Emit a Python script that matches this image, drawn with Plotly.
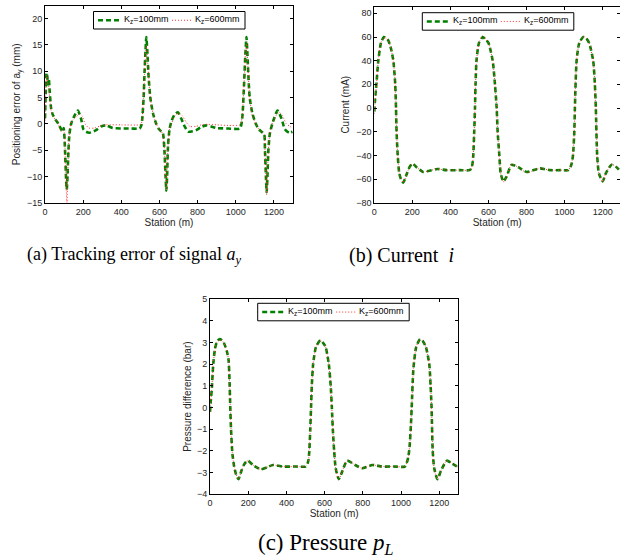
import plotly.graph_objects as go

# ---------------- data ----------------
# (a) positioning error of a_y (mm)
st_a_k100 = [0, 4, 8, 12, 16, 20, 25, 32, 40, 55, 70, 84, 93, 98, 102, 107, 111, 114, 118, 123, 128, 137,
             154, 172, 189, 201, 215, 233, 268, 294, 320, 355, 400, 450, 496, 505, 510, 517, 522, 527, 531,
             536, 543, 552, 566, 583, 597, 610, 618, 626, 632, 636, 640, 645, 653, 663, 680, 697, 714, 732,
             750, 775, 793, 820, 846, 870, 898, 960, 1021, 1030, 1036, 1044, 1050, 1056, 1060, 1065, 1073,
             1087, 1105, 1120, 1135, 1149, 1153, 1158, 1162, 1166, 1171, 1178, 1184, 1196, 1219, 1240, 1257,
             1280, 1297]
err_a_k100 = [1, 6, 9.7, 9, 7.5, 8.5, 6, 3, 1.8, 0.8, 0, -1, -1.5, -0.8, -2.5, -7, -11, -12.5, -10, -5, -2, 0,
              1.5, 2.5, 1, -1, -1.5, -1.7, -1.2, -0.5, -0.3, -0.8, -0.9, -0.9, -0.9, -0.3, 1, 5, 10, 14, 16.5,
              14, 9, 5, 2, 0, -1, -1.5, -1.8, -5, -10, -12.7, -10, -4, -1, 0.5, 1.8, 2.2, 1, -0.5,
              -1.5, -1.4, -1.2, -0.6, -0.3, -0.5, -0.8, -0.9, -0.9, 0, 2, 8, 13, 16.5, 14, 10, 5,
              2, 0, -1, -1.5, -2, -5, -10, -13, -10, -5, -2, -1, 0.5, 2.5, 1, -1,
              -1.7, -1.5]
st_a_k600 = [0, 4, 8, 12, 20, 30, 40, 55, 70, 84, 93, 100, 106, 111, 115, 119, 124, 130, 140, 160, 180, 195,
             210, 230, 260, 290, 320, 400, 496, 505, 510, 517, 522, 527, 531, 536, 543, 552, 566, 583, 597,
             610, 618, 626, 632, 636, 640, 645, 653, 663, 680, 700, 720, 740, 760, 790, 820, 850, 900, 960,
             1021, 1030, 1036, 1044, 1050, 1056, 1060, 1065, 1073, 1087, 1105, 1120, 1135, 1149, 1153, 1158,
             1162, 1166, 1171, 1178, 1184, 1196, 1210, 1228, 1245, 1265, 1285, 1297]
err_a_k600 = [0, 6, 9.3, 8, 7, 3, 1.5, 0.8, 0, -1.5, -1.2, -1.5, -6, -12, -15, -10, -4, -1, 0.5, 1.2, 1.8, 1.5,
              0, -0.8, -0.8, -0.4, -0.2, -0.2, -0.2, 0, 1.5, 5, 10, 13, 15, 13, 9, 5, 2, 0, -1,
              -1.5, -2, -5, -10, -12.5, -10, -4, -1, 0, 1.5, 2, 1.5, 0.3, -0.5, -0.5, -0.2, -0.1, -0.2, -0.3,
              -0.2, 0.5, 2.5, 8, 13, 15.5, 13.5, 10, 5, 1.5, 0, -1, -1.5, -2, -5, -10,
              -13.5, -10, -5, -2, -0.5, 0.5, 1.5, 2.2, 1.5, 0, -0.5, -0.8]

# (b) current (mA)
st_b = [0, 3, 8, 12, 21, 35, 50, 62, 74, 88, 100, 110, 114, 117, 123, 131, 140, 152, 170, 185, 200, 222, 257,
        290, 330, 380, 450, 500, 510, 516, 520, 525, 529, 532, 537, 550, 570, 585, 600, 622, 634, 643, 648,
        657, 664, 678, 695, 721, 756, 800, 870, 923, 980, 1019, 1030, 1037, 1044, 1051, 1054, 1063, 1077,
        1098, 1113, 1129, 1150, 1159, 1164, 1171, 1180, 1200, 1217, 1247, 1273, 1290]
cur_b_k100 = [-3, 5, 15, 22, 40, 55, 60, 59, 57, 50, 40, 20, 0, -20, -40, -55, -60, -63, -56, -50, -47, -50, -54,
              -53, -51.5, -52.5, -52.5, -52.5, -51, -47, -40, -20, 0, 20, 40, 55, 60, 58, 55, 40, 20, 0, -20,
              -40, -55, -62, -58, -48, -50, -54, -51, -52.5, -52.5, -52.5, -50, -47, -40, -20, 0, 40, 55,
              60, 59, 55, 40, 20, 0, -40, -55, -62, -55, -48, -50, -53]
cur_b_k600 = [-5, 4, 14, 21, 40, 55, 59.5, 59, 57, 50, 40, 20, 0, -20, -40, -55, -60, -63, -56, -50, -47.5, -50, -54,
              -53, -51.5, -52.5, -52.5, -52.5, -51, -47, -40, -20, 0, 20, 40, 55, 61, 58, 55, 40, 20, 0, -20,
              -40, -55, -62.5, -58, -47.5, -50, -54.5, -51, -52.5, -52.5, -52.5, -50, -47, -40, -20, 0, 40, 55,
              60.5, 59, 55, 40, 20, 0, -40, -55, -62.5, -55, -47.5, -50, -53]

# (c) pressure difference (bar)
st_c = [0, 4, 9, 17, 26, 35, 49, 62, 74, 88, 97, 102, 106, 110, 117, 126, 137, 149, 165, 180, 198, 225, 266,
        300, 330, 380, 450, 500, 510, 516, 520, 525, 529, 533, 540, 555, 578, 590, 605, 622, 632, 638, 643,
        650, 658, 674, 690, 718, 760, 797, 850, 900, 960, 1020, 1030, 1038, 1045, 1052, 1056, 1065, 1080,
        1100, 1115, 1130, 1148, 1155, 1160, 1166, 1174, 1191, 1210, 1240, 1270, 1300]
pres_c_k100 = [-0.2, 0.3, 0.8, 2.0, 2.7, 3.0, 3.15, 3.1, 2.95, 2.6, 2.2, 1.3, 0.05, -1.0, -2.1, -2.7, -3.1, -3.3,
               -2.9, -2.6, -2.45, -2.65, -2.85, -2.75, -2.65, -2.72, -2.72, -2.72, -2.6, -2.4, -2.0, -1.0, 0,
               1.0, 2.0, 2.8, 3.1, 3.0, 2.8, 2.0, 1.0, 0, -1.0, -2.0, -2.8, -3.3, -3.0, -2.45, -2.65, -2.8,
               -2.65, -2.72, -2.72, -2.72, -2.55, -2.3, -1.8, -0.8, 0, 1.8, 2.8, 3.15, 3.05, 2.8, 2.0, 1.0,
               0, -2.0, -2.8, -3.3, -2.9, -2.45, -2.6, -2.75]
pres_c_k600 = [-0.2, 0.3, 0.8, 2.0, 2.7, 3.0, 3.12, 3.1, 2.95, 2.6, 2.2, 1.3, 0.05, -1.0, -2.1, -2.7, -3.1, -3.3,
               -2.9, -2.6, -2.45, -2.65, -2.85, -2.75, -2.65, -2.72, -2.72, -2.72, -2.6, -2.4, -2.0, -1.0, 0,
               1.0, 2.0, 2.8, 3.1, 3.0, 2.8, 2.0, 1.0, 0, -1.0, -2.0, -2.8, -3.3, -3.0, -2.45, -2.65, -2.8,
               -2.65, -2.72, -2.72, -2.72, -2.55, -2.3, -1.8, -0.8, 0, 1.8, 2.8, 3.15, 3.05, 2.8, 2.0, 1.0,
               0, -2.0, -2.8, -3.3, -2.9, -2.45, -2.6, -2.75]

name_k100 = "K<sub>z</sub>=100mm"
name_k600 = "K<sub>z</sub>=600mm"
x_ticks = [0, 200, 400, 600, 800, 1000, 1200]
captions = ["(a) Tracking error of signal <i>a<sub>y</sub></i>",
            "(b) Current&nbsp;&nbsp;<i>i</i>",
            "(c) Pressure <i>p<sub>L</sub></i>"]

# ---------------- figure ----------------
W, H = 620, 559
GREEN = "#008000"
RED = "#ff3030"
GREEN_LINE = dict(color=GREEN, width=2.6, dash="5px,3px")
RED_LINE = dict(color=RED, width=1, dash="1px,2px")
fig = go.Figure()

series = [
    ("x", "y", st_a_k100, err_a_k100, st_a_k600, err_a_k600),
    ("x2", "y2", st_b, cur_b_k100, st_b, cur_b_k600),
    ("x3", "y3", st_c, pres_c_k100, st_c, pres_c_k600),
]
for xa, ya, x1, y1, x2, y2 in series:
    fig.add_trace(go.Scatter(x=x1, y=y1, xaxis=xa, yaxis=ya, name=name_k100, mode="lines", showlegend=False,
                             line=dict(**GREEN_LINE, shape="spline", smoothing=0.6)))
    fig.add_trace(go.Scatter(x=x2, y=y2, xaxis=xa, yaxis=ya, name=name_k600, mode="lines", showlegend=False,
                             line=dict(**RED_LINE, shape="spline", smoothing=0.6)))

FAM = "Liberation Sans, Arial, sans-serif"
font_axis = dict(family=FAM, size=9, color="#262626")
title_font = dict(size=10, family=FAM, color="#262626")
common_ax = dict(showline=True, linecolor="black", linewidth=1, mirror="ticks", ticks="inside",
                 ticklen=3, tickcolor="black", showgrid=False, zeroline=False, tickfont=font_axis,
                 automargin=False)

fig.update_layout(
    width=W, height=H, margin=dict(l=0, r=0, t=0, b=0), template="none",
    paper_bgcolor="white", plot_bgcolor="white", showlegend=False,
    xaxis=dict(domain=[45 / W, 293 / W], range=[0, 1300], tickvals=x_ticks, anchor="y",
               title=dict(text="Station (m)", font=title_font, standoff=2), **common_ax),
    yaxis=dict(domain=[1 - 202.7 / H, 1 - 6 / H], range=[-15, 22.4], tickvals=[-15, -10, -5, 0, 5, 10, 15, 20],
               anchor="x", title=dict(text="Positioning error of a<sub>y</sub> (mm)", font=title_font, standoff=4),
               **common_ax),
    xaxis2=dict(domain=[374.3 / W, 1.0], range=[0, 1291], tickvals=x_ticks, anchor="y2",
                title=dict(text="Station (m)", font=title_font, standoff=2), **common_ax),
    yaxis2=dict(domain=[1 - 202.7 / H, 1 - 6.7 / H], range=[-80, 85.6], tickvals=list(range(-80, 81, 20)),
                anchor="x2", title=dict(text="Current (mA)", font=title_font, standoff=4), **common_ax),
    xaxis3=dict(domain=[210 / W, 458.3 / W], range=[0, 1300], tickvals=x_ticks, anchor="y3",
                title=dict(text="Station (m)", font=title_font, standoff=2), **common_ax),
    yaxis3=dict(domain=[1 - 494.3 / H, 1 - 299 / H], range=[-4, 5], tickvals=list(range(-4, 6)), anchor="x3",
                title=dict(text="Pressure difference (bar)", font=title_font, standoff=3), **common_ax),
)

# legends (one boxed legend per panel), positioned in pixels
legend_boxes = [(93.5, 11.5), (422.3, 12.7), (257.7, 303.3)]
LW, LH = 151.5, 17.5
def px(x):
    return x / W
def py(y):
    return 1 - y / H
for lx, ly in legend_boxes:
    fig.add_shape(type="rect", xref="paper", yref="paper", x0=px(lx), x1=px(lx + LW), y0=py(ly + LH), y1=py(ly),
                  line=dict(color="black", width=1), fillcolor="white", layer="above")
    cy = ly + LH / 2
    fig.add_shape(type="line", xref="paper", yref="paper", x0=px(lx + 4.5), x1=px(lx + 27), y0=py(cy), y1=py(cy),
                  line=GREEN_LINE, layer="above")
    fig.add_shape(type="line", xref="paper", yref="paper", x0=px(lx + 78.5), x1=px(lx + 98.5), y0=py(cy), y1=py(cy),
                  line=RED_LINE, layer="above")
    for tx, txt in [(lx + 29.5, name_k100), (lx + 100.5, name_k600)]:
        fig.add_annotation(text=txt, x=px(tx), y=py(cy - 0.5), xref="paper", yref="paper", xanchor="left",
                           yanchor="middle", showarrow=False, font=dict(family=FAM, size=9, color="black"),
                           borderpad=0)

SERIF = "Liberation Serif, Times New Roman, serif"
for txt, cx, cy, fs in zip(captions, [134, 401, 325], [255, 255, 544], [18, 20, 23]):
    fig.add_annotation(text=txt, x=cx / W, y=1 - cy / H, xref="paper", yref="paper",
                       xanchor="center", yanchor="middle", showarrow=False, borderpad=0,
                       font=dict(family=SERIF, size=fs, color="black"))

fig.write_html("out.html", config={"displayModeBar": False},
               post_script="document.body.style.margin='0px';document.body.style.overflow='hidden';")
